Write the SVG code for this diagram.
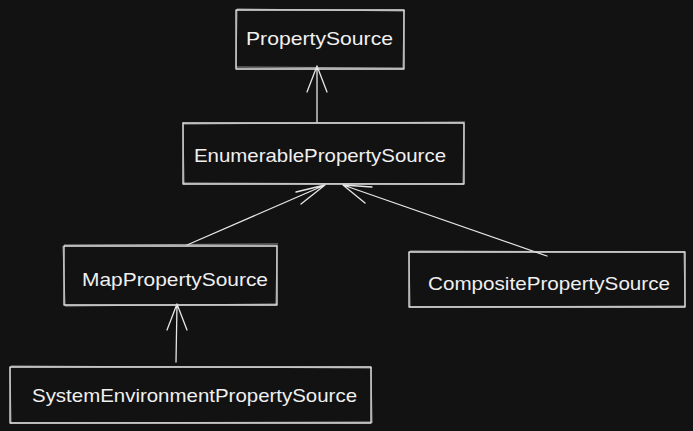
<svg xmlns="http://www.w3.org/2000/svg" width="693" height="431" viewBox="0 0 693 431">
<style>
.box{fill:none;stroke:#e6e6e6;stroke-width:1.3;stroke-linejoin:round}
.box2{fill:none;stroke:#cfcfcf;stroke-width:0.9;opacity:0.8}
.lbl{fill:#f0f0f0;font-family:"Liberation Sans",Arial,sans-serif;font-size:19px}
.edge{fill:none;stroke:#e6e6e6;stroke-width:1.3;stroke-linecap:round;stroke-linejoin:round}
</style>
<rect x="0" y="0" width="693" height="431" fill="#121212"/>
<g id="connectors">
  <path class="edge" d="M317 122 L317 66 M307 92 L317 66 L327 92"/>
  <path class="edge" d="M187 245 L325 185 M301 204 L325 185 L296 192"/>
  <path class="edge" d="M547 256 L343 185 M365 203 L343 185 L372 187"/>
  <path class="edge" d="M176 362 L177 304 M167 330 L177 304 L187 330"/>
</g>
<g id="PropertySource">
  <rect class="box" x="236" y="10" width="168" height="59"/>
  <path class="box2" d="M237 9 L405 11 M404 10 L403 68 M403 68 L236 67 M236 68 L237 9"/>
  <text class="lbl" x="246" y="45" textLength="147" lengthAdjust="spacingAndGlyphs">PropertySource</text>
</g>
<g id="EnumerablePropertySource">
  <rect class="box" x="183" y="123" width="281" height="61"/>
  <path class="box2" d="M184 124 L465 122 M464 123 L463 185 M463 184 L183 183 M184 185 L183 122"/>
  <text class="lbl" x="194" y="162" textLength="252" lengthAdjust="spacingAndGlyphs">EnumerablePropertySource</text>
</g>
<g id="MapPropertySource">
  <rect class="box" x="64" y="246" width="213" height="59"/>
  <path class="box2" d="M64 245 L278 244 M277 245 L276 305 M277 304 L65 306 M65 305 L63 246"/>
  <text class="lbl" x="82" y="286" textLength="186" lengthAdjust="spacingAndGlyphs">MapPropertySource</text>
</g>
<g id="CompositePropertySource">
  <rect class="box" x="409" y="252" width="276" height="55"/>
  <path class="box2" d="M410 251 L685 252 M684 251 L685 307 M685 306 L409 307 M410 306 L409 252"/>
  <text class="lbl" x="428" y="290" textLength="242" lengthAdjust="spacingAndGlyphs">CompositePropertySource</text>
</g>
<g id="SystemEnvironmentPropertySource">
  <rect class="box" x="10" y="367" width="361" height="56"/>
  <path class="box2" d="M11 366 L372 368 M371 367 L372 423 M372 422 L10 423 M11 424 L10 367"/>
  <text class="lbl" x="32" y="402" textLength="325" lengthAdjust="spacingAndGlyphs">SystemEnvironmentPropertySource</text>
</g>
</svg>
